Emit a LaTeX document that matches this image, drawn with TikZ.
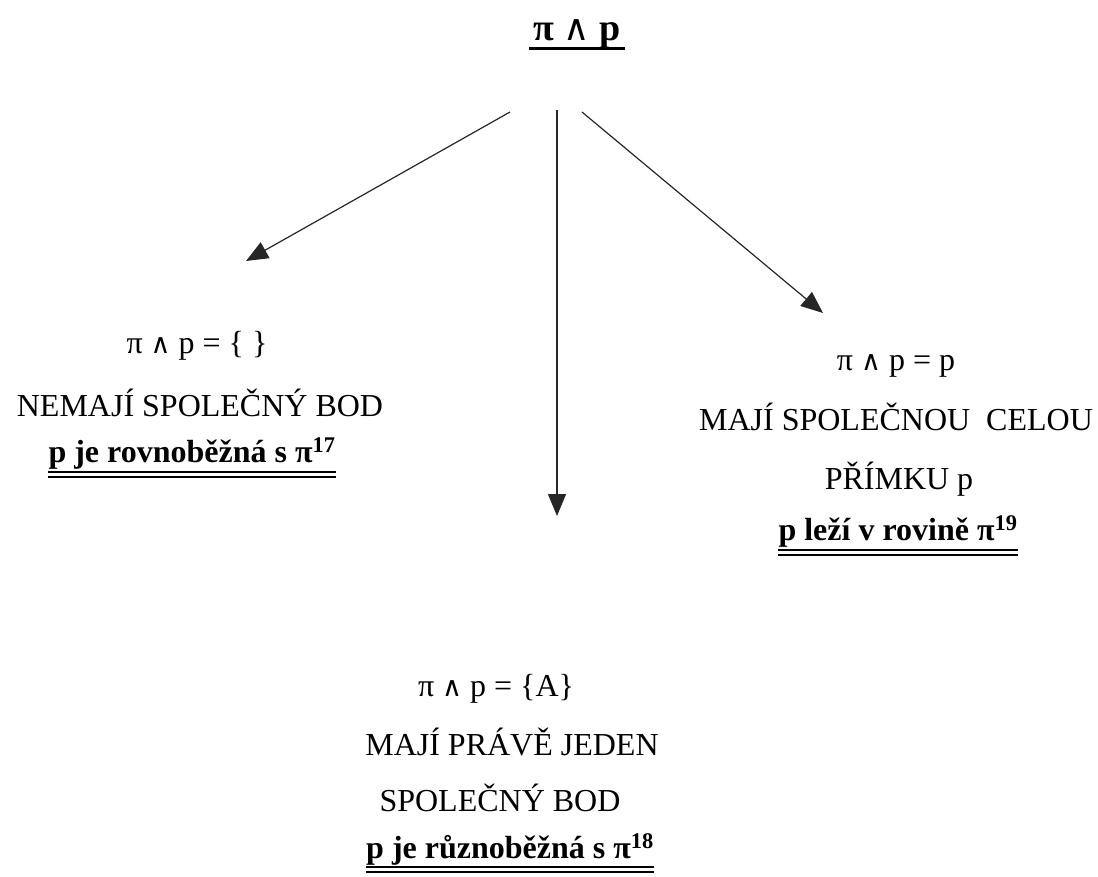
\documentclass[tikz,border=0pt]{standalone}
\usepackage{fontspec}
\setmainfont{Liberation Serif}
\newfontfamily\dvs[Scale=0.85]{DejaVu Serif}
\newfontfamily\dvsans[Scale=0.95]{DejaVu Sans}
\usetikzlibrary{arrows.meta}
\tikzset{
  lbl/.style={font=\fontsize{32}{38}\selectfont, inner sep=0pt, anchor=base},
  blbl/.style={lbl, font=\fontsize{32}{38}\selectfont\bfseries},
  ttl/.style={inner sep=0pt, anchor=base, font=\fontsize{38}{44}\selectfont\bfseries},
  arr/.style={line width=1.2pt, black!85, -{Triangle[length=22pt,width=18pt]}},
  thickul/.style={line width=2.6pt},
  thinul/.style={line width=1.2pt}
}
\newcommand{\wdg}{{\dvs ∧}}
\newcommand{\twdg}{{\dvsans\mdseries ∧}}
\begin{document}
\begin{tikzpicture}[x=1pt,y=-1pt]
\useasboundingbox (0,0) rectangle (1098,876);
% title
\node[ttl] (t) at (577,40) {π\ \twdg\ p};
\draw[line width=3pt] ([xshift=-4pt,yshift=-8pt]t.base west) -- ([xshift=4pt,yshift=-8pt]t.base east);
% arrows
\coordinate (s1) at (510,112);
\coordinate (s2) at (557,110);
\coordinate (s3) at (582,112);
\coordinate (e1) at (246,261);
\coordinate (e2) at (557,516);
\coordinate (e3) at (823,313);
\draw[arr] (s1) -- (e1);
\draw[arr] (s2) -- (e2);
\draw[arr] (s3) -- (e3);
% left block
\node[lbl] (l1) at (197,353) {π \wdg{} p = \{ \}};
\node[lbl] (l2) at (200,416) {NEMAJÍ SPOLEČNÝ BOD};
\node[blbl] (l3) at (192,462) {p je rovnoběžná s π\textsuperscript{17}};
\draw[thickul] ([yshift=-10pt]l3.base west) -- ([yshift=-10pt]l3.base east);
\draw[thinul] ([yshift=-15pt]l3.base west) -- ([yshift=-15pt]l3.base east);
% right block
\node[lbl] (r1) at (896,370) {π \wdg{} p = p};
\node[lbl] (r2) at (896,430) {MAJÍ SPOLEČNOU\ \ CELOU};
\node[lbl] (r3) at (899,489) {PŘÍMKU p};
\node[blbl] (r4) at (898,540) {p leží v rovině π\textsuperscript{19}};
\draw[thickul] ([yshift=-10pt]r4.base west) -- ([yshift=-10pt]r4.base east);
\draw[thinul] ([yshift=-15pt]r4.base west) -- ([yshift=-15pt]r4.base east);
% bottom block
\node[lbl] (b1) at (496,696) {π \wdg{} p = \{A\}};
\node[lbl] (b2) at (512,755) {MAJÍ PRÁVĚ JEDEN};
\node[lbl] (b3) at (500,811) {SPOLEČNÝ BOD};
\node[blbl] (b4) at (510,858) {p je různoběžná s π\textsuperscript{18}};
\draw[thickul] ([yshift=-9pt]b4.base west) -- ([yshift=-9pt]b4.base east);
\draw[thinul] ([yshift=-14pt]b4.base west) -- ([yshift=-14pt]b4.base east);
\end{tikzpicture}
\end{document}
